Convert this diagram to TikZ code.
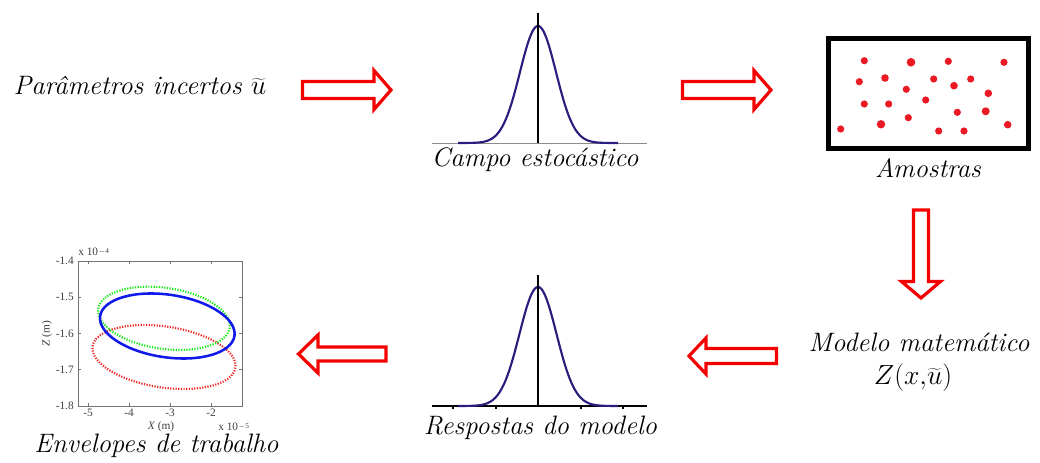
\documentclass[tikz,border=0pt]{standalone}
\usepackage{fontspec}
\newfontfamily\plotfont{Liberation Serif}
\definecolor{arrred}{RGB}{245,0,0}
\definecolor{navy}{RGB}{40,30,125}
\definecolor{dotred}{RGB}{235,25,35}
\definecolor{ellblue}{RGB}{15,25,235}
\definecolor{ellgreen}{RGB}{20,235,20}
\definecolor{ellred}{RGB}{240,35,35}
\tikzset{
  blockarrow/.style={draw=arrred, line width=2.4pt, fill=white, miter limit=4},
  caption/.style={font=\fontsize{20}{24}\selectfont\itshape, inner sep=0pt, anchor=base},
  gausscurve/.style={draw=navy, line width=1.6pt},
  axisline/.style={line width=1.5pt},
  sampledot/.style={fill=dotred},
  ticklabel/.style={font=\plotfont\fontsize{8.5}{9}\selectfont, text=black!75, inner sep=0pt},
  plotbox/.style={draw=black!55, line width=0.6pt},
  envdot/.style={line width=1.6pt, dash pattern=on 0.9pt off 1.1pt}
}
\begin{document}
\begin{tikzpicture}[x=0.75pt,y=-0.75pt]
\useasboundingbox (0,0) rectangle (1040,463);

% ---- captions
\node[caption] (par) at (140,95) {Parâmetros incertos $\widetilde{u}$};
\node[caption] (campo) at (535,167) {Campo estocástico};
\node[caption] (amo) at (928,178) {Amostras};
\node[caption, anchor=base, align=center, font=\fontsize{20}{24.75}\selectfont] (mod) at (919,385)
  {\itshape Modelo matemático\\ $Z(x{,}\widetilde{u})$\hspace*{9pt}};
\node[caption] (resp) at (540.5,435) {Respostas do modelo};
\node[caption] (env) at (156.5,453) {Envelopes de trabalho};

% ---- block arrows
\draw[blockarrow] (302.5,81.5) -- (374,81.5) -- (374,70.5) -- (391,90) -- (374,109.5) -- (374,98.5) -- (302.5,98.5) -- cycle;
\draw[blockarrow] (682.5,81.5) -- (754,81.5) -- (754,70.5) -- (771,90) -- (754,109.5) -- (754,98.5) -- (682.5,98.5) -- cycle;
\draw[blockarrow] (913.5,210) -- (913.5,281.5) -- (901.5,281.5) -- (921,298) -- (940.5,281.5) -- (928.5,281.5) -- (928.5,210) -- cycle;
\draw[blockarrow] (776.5,348.5) -- (706,348.5) -- (706,338) -- (689,356) -- (706,374) -- (706,363.5) -- (776.5,363.5) -- cycle;
\draw[blockarrow] (386,347) -- (318,347) -- (318,335) -- (298.5,354) -- (318,373) -- (318,361) -- (386,361) -- cycle;

% ---- gaussian 1
\draw[black!45, line width=0.6pt] (432,143) -- (647,143);
\draw[gausscurve] plot[domain=-80:80, samples=121, smooth] ({538+\x},{143-117*exp(-0.5*(\x/18)^2)});
\draw[axisline] (538,13) -- (538,143);

% ---- gaussian 2
\draw[axisline] (432,406) -- (647,406);
\foreach \t in {453,496,581,623} \draw[line width=1pt] (\t,406) -- (\t,409);
\draw[gausscurve] plot[domain=-80:80, samples=121, smooth] ({538+\x},{406-119*exp(-0.5*(\x/18.5)^2)});
\draw[axisline] (538,275) -- (538,406);

% ---- samples box
\draw[line width=3.6pt] (828.3,38.3) rectangle (1028.3,148.3);
\foreach \px/\py/\r in {864.3/60.7/3.6, 911/62.3/4.3, 948.3/61.3/3.6, 1004/62.3/3.6,
  859.3/81.7/3.6, 885/78/3.8, 933.7/79/3.6, 970.7/79/3.6, 954/85.7/3.8, 906.3/89.3/3.6,
  988.3/93.3/3.8, 925.7/100/3.6, 864.3/104/3.6, 888.7/104/3.6, 957.3/112.3/3.6,
  985.7/111.3/4.0, 908.3/117.7/3.6, 881/124.3/4.2, 1007.7/124.7/3.8, 840.7/129/3.6,
  938.7/131/3.6, 964/131/3.6}
  \fill[sampledot] (\px,\py) circle[radius=\r];

% ---- envelope plot
\begin{scope}
\clip (78,261) rectangle (242,406);
\draw[envdot, draw=ellred, rotate around={-8.5:(164,357)}] (164,357) ellipse[x radius=72.2, y radius=30.5];
\draw[envdot, draw=ellgreen, rotate around={-8.2:(164,318.3)}] (164,318.3) ellipse[x radius=66.4, y radius=30.5];
\draw[line width=1.9pt, draw=ellblue, rotate around={-8.4:(167.3,326)}] (167.3,326) ellipse[x radius=67.9, y radius=31.3];
\end{scope}
\draw[plotbox] (78,261) rectangle (242,406);
\foreach \tx/\tl in {88/-5,129/-4,170/-3,211/-2} {
  \draw[plotbox] (\tx,406) -- (\tx,403);
  \draw[plotbox] (\tx,261) -- (\tx,264);
  \node[ticklabel, anchor=north] at (\tx,409) {\tl};
}
\foreach \ty/\tl in {261/-1.4,297.25/-1.5,333.5/-1.6,369.75/-1.7,406/-1.8} {
  \draw[plotbox] (78,\ty) -- (81,\ty);
  \draw[plotbox] (242,\ty) -- (239,\ty);
  \node[ticklabel, anchor=east] at (74,\ty) {\tl};
}
\node[ticklabel, anchor=west] (e4) at (78,252) {x 10\raisebox{0.5ex}{\fontsize{5.5}{6}\selectfont $-$4}};
\node[ticklabel, anchor=west] (e5) at (218,427) {x 10\raisebox{0.5ex}{\fontsize{5.5}{6}\selectfont $-$5}};
\node[ticklabel] (xl) at (161,427) {\textit{X} (m)};
\node[ticklabel, rotate=90] (zl) at (47,334) {\textit{Z} (m)};
\end{tikzpicture}
\end{document}
